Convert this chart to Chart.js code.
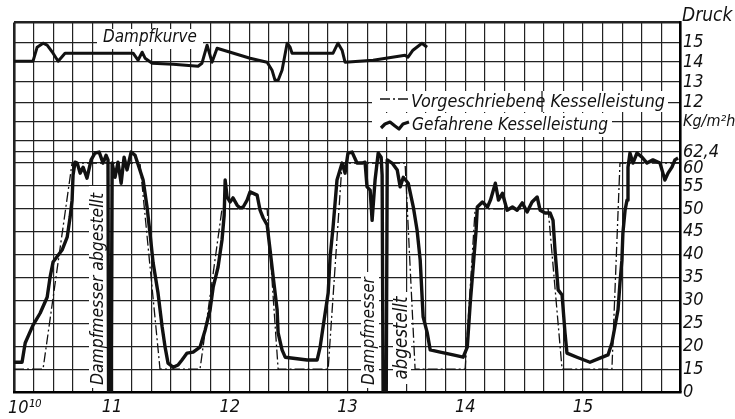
<!DOCTYPE html>
<html>
<head>
<meta charset="utf-8">
<script src="https://cdn.jsdelivr.net/npm/chart.js@4.4.1/dist/chart.umd.min.js"></script>
<style>
  html, body { margin: 0; padding: 0; background: #fff; }
  #wrap { width: 735px; height: 419px; position: relative; }
</style>
</head>
<body>
<div id="wrap"><canvas id="c"></canvas></div>
<script>
// ---- DATA (time = minutes after 10:00, load in Kg/m²h, pressure in atü) ----
const actualTime = [10,14.1,15.7,19.7,23.3,26.9,28.4,29.9,34.5,37.1,38.6,39.6,40.1,41.1,42.2,43.7,45.2,47.2,49.3,51.3,53.4,55.4,56.9,57.9,58.2,59.5,60.0,61.5,63.0,64.6,66.1,67.6,69.7,71.7,73.7,75.8,77.8,79.4,80.9,83.4,85.5,87.0,88.5,91.1,93.6,95.6,98.2,101.3,104.8,107.4,109.9,111.5,114.0,116.0,117.1,117.6,118.6,120.1,121.6,123.7,125.2,126.8,128.8,130.3,133.9,135.4,137.0,139.0,140.5,142.1,144.1,144.6,146.6,148.2,159.4,164.5,166.0,167.5,170.1,171.1,172.6,174.6,177.2,178.7,180.2,182.3,184.8,187.4,188.9,189.9,191.5,192.5,194.0,195.6,197.1,197.6,198.1,199.7,200.2,202.7,205.3,206.8,208.4,210.9,213.5,215.4,217.0,218.5,220.6,222.1,227.2,233.8,238.9,241.0,242.5,244.0,245.5,246.1,248.7,251.3,252.8,255.3,256.9,258.9,261.3,264.0,266.4,269.0,271.5,274.0,276.6,278.1,280.7,283.2,284.7,285.7,287.3,289.3,290.8,291.8,296.9,303.5,308.6,312.7,314.7,316.2,317.8,318.8,319.8,320.3,321.4,322.4,322.9,323.9,325.4,327.5,330.0,332.6,335.6,339.2,340.7,341.7,343.3,345.3,346.8,348.4];
const actualLoad = [16.5,16.5,20.7,24.6,27.2,30.7,35.1,38.4,41.0,43.8,48.2,51.9,57.4,60.2,60.0,57.8,59.1,56.7,60.7,62.2,62.4,60.0,61.7,60.7,0,0,60.0,56.9,60.2,55.6,61.3,58.5,62.4,61.7,59.1,56.3,50.4,44.3,38.2,31.6,24.2,19.8,16.3,15.4,15.9,17.0,18.5,18.7,19.8,23.5,27.9,32.9,37.3,43.2,48.6,56.3,52.6,51.5,52.4,50.8,50.2,50.4,51.9,53.7,53.0,49.7,48.0,46.5,41.0,35.1,27.9,22.9,19.2,17.6,17.0,17.0,19.8,24.2,31.6,39.5,46.0,56.3,60.0,57.8,62.2,62.4,60.0,60.0,60.2,54.8,54.1,47.5,56.3,62.2,61.3,57.4,0,0,60.7,60.0,58.5,54.8,56.9,55.6,50.4,45.4,38.8,26.4,22.9,19.2,18.7,18.1,17.6,19.8,29.4,37.3,45.4,50.4,51.5,50.4,51.9,55.6,51.9,53.4,49.7,50.4,49.7,51.3,49.3,51.5,52.6,49.7,49.1,49.1,47.5,41.0,32.3,31.2,22.9,18.5,17.6,16.5,17.4,18.1,20.7,24.2,27.9,33.8,38.8,44.7,49.7,51.9,59.1,62.2,60.0,62.2,61.3,60.0,60.7,60.0,57.8,56.3,57.8,59.1,60.7,61.1];

const prescribedTime = [10,24.8,39.6,74.2,84.4,104.8,116.0,139.0,144.6,170.1,177.2,209.3,214.4,239.9,245.0,282.2,289.3,314.7,318.8,349.4];
const prescribedLoad = [15,15,60,60,15,15,50,50,15,15,60,60,15,15,50,50,15,15,60,60];

const pressureTime = [10,19.7,21.8,24.8,26.9,29.9,32.5,36.0,70.7,73.2,75.3,76.8,80.4,91.1,103.8,105.8,108.4,110.9,113.5,130.3,139.0,141.5,143.0,144.6,146.6,149.2,150.7,151.7,172.6,175.1,177.2,178.7,193.0,209.3,210.8,213.3,217.9,220.5];
const pressureVal = [14.05,14.05,14.75,14.95,14.85,14.45,14.05,14.45,14.45,14.1,14.5,14.2,13.95,13.9,13.8,13.95,14.85,14.0,14.7,14.2,14.0,13.6,13.1,13.1,13.6,14.95,14.75,14.45,14.45,14.95,14.6,14.0,14.1,14.35,14.25,14.6,14.95,14.75];

const hourTickMinutes = [10, 60, 120, 180, 240, 300];
const hourTickLabels = ['10¹⁰', '11', '12', '13', '14', '15'];

const rightTickValues = [10,15,20,25,30,35,40,45,50,55,60,62.4,64.8,69.0,73.3,77.7,82.06,86.4,90.7];
const rightTickLabels = ['0','15','20','25','30','35','40','45','50','55','60','62,4','','Kg/m²h','12','13','14','15',''];

// ---- helpers ----
// The load axis is broken below 15: "0" is drawn one grid step below 15.
function loadPos(v) { return v >= 15 ? v : 10 + v / 3; }
const FONT = '"Liberation Sans Narrow", "DejaVu Sans Condensed", "Liberation Sans", sans-serif';

const actualData = actualTime.map((t, i) => ({ x: t, y: loadPos(actualLoad[i]) }));
const prescribedData = prescribedTime.map((t, i) => ({ x: t, y: loadPos(prescribedLoad[i]) }));
const pressureData = pressureTime.map((t, i) => ({ x: t, y: pressureVal[i] }));

function fitText(ctx, text, cx, cy, width, rot) {
  ctx.save();
  ctx.font = 'italic 20px ' + FONT;
  const w = ctx.measureText(text).width;
  const size = 20 * width / w;
  ctx.font = 'italic ' + size.toFixed(2) + 'px ' + FONT;
  ctx.translate(cx, cy);
  if (rot) ctx.rotate(rot);
  ctx.textAlign = 'center';
  ctx.textBaseline = 'middle';
  ctx.fillStyle = '#111';
  ctx.fillText(text, 0, 0);
  ctx.restore();
}

const annot = {
  id: 'annot',
  beforeDatasetsDraw(chart) {
    const ctx = chart.ctx;
    ctx.save();
    ctx.fillStyle = '#fff';
    ctx.fillRect(97, 29, 106, 20);     // Dampfkurve
    ctx.fillRect(372, 91, 296, 21);    // legend line 1
    ctx.fillRect(372, 113, 240, 24);   // legend line 2
    ctx.fillRect(89, 186, 18, 202);    // Dampfmesser abgestellt (1)
    ctx.fillRect(361, 272, 18, 116);   // Dampfmesser (2)
    ctx.fillRect(393, 292, 18, 92);    // abgestellt (2)
    ctx.restore();

    fitText(ctx, 'Dampfkurve', 150, 38, 94, 0);
    fitText(ctx, 'Vorgeschriebene Kesselleistung', 538, 102, 254, 0);
    fitText(ctx, 'Gefahrene Kesselleistung', 510, 126, 196, 0);
    fitText(ctx, 'Dampfmesser abgestellt', 98, 289, 192, -Math.PI / 2);
    fitText(ctx, 'Dampfmesser', 370, 331, 108, -Math.PI / 2);
    fitText(ctx, 'abgestellt', 402, 338, 83, -Math.PI / 2);

    ctx.save();
    ctx.strokeStyle = '#111';
    ctx.lineWidth = 1.3;
    ctx.setLineDash([10, 3, 2, 3]);
    ctx.beginPath(); ctx.moveTo(380, 99); ctx.lineTo(410, 99); ctx.stroke();
    ctx.setLineDash([]);
    ctx.lineWidth = 3.2;
    ctx.lineJoin = 'round';
    ctx.beginPath();
    ctx.moveTo(381, 128); ctx.lineTo(385, 124); ctx.lineTo(390, 122); ctx.lineTo(395, 126);
    ctx.lineTo(399, 129); ctx.lineTo(403, 124); ctx.lineTo(409, 122);
    ctx.stroke();
    ctx.lineWidth = 1.2;
    ctx.beginPath(); ctx.moveTo(542, 91); ctx.lineTo(542, 112); ctx.stroke();
    ctx.restore();
  },
  afterDraw(chart) {
    const ctx = chart.ctx;
    ctx.save();
    ctx.fillStyle = '#111';
    ctx.textBaseline = 'middle';
    ctx.font = 'italic 19px ' + FONT;
    ctx.fillText('Druck', 682, 16);
    ctx.font = 'italic 18px ' + FONT;
    // "60" sits a little below its line in the original, clear of "62,4"
    ctx.fillText(rightTickLabels[10], 683, 168);
    // first time label sits right of its tick in the original
    ctx.textAlign = 'left';
    ctx.fillText(hourTickLabels[0], 8, 408);
    ctx.restore();
  }
};

new Chart(document.getElementById('c'), {
  type: 'scatter',
  data: {
    datasets: [
      { label: 'Gefahrene Kesselleistung', data: actualData, yAxisID: 'y', showLine: true,
        borderColor: '#111', borderWidth: 3.4, pointRadius: 0, tension: 0, borderJoinStyle: 'round' },
      { label: 'Vorgeschriebene Kesselleistung', data: prescribedData, yAxisID: 'y', showLine: true,
        borderColor: '#111', borderWidth: 1.3, borderDash: [10, 3, 2, 3], pointRadius: 0, tension: 0 },
      { label: 'Dampfkurve', data: pressureData, yAxisID: 'y2', showLine: true,
        borderColor: '#111', borderWidth: 3, pointRadius: 0, tension: 0, borderJoinStyle: 'round' }
    ]
  },
  options: {
    responsive: true,
    maintainAspectRatio: false,
    animation: false,
    layout: { padding: { left: 14, top: 22.5, right: 0, bottom: 0 } },
    plugins: { legend: { display: false }, tooltip: { enabled: false } },
    scales: {
      x: {
        type: 'linear', min: 10, max: 349.4,
        afterBuildTicks(scale) {
          const t = [];
          for (let v = 10; v <= 340; v += 10) t.push({ value: v });
          t.push({ value: 349.4 });
          scale.ticks = t;
        },
        afterFit(scale) { scale.height = 27; },
        ticks: {
          autoSkip: false, maxRotation: 0, padding: 5, color: '#111',
          font: { family: FONT, size: 18, style: 'italic' },
          callback(v) { const i = hourTickMinutes.indexOf(v); return i > 0 ? hourTickLabels[i] : ''; }
        },
        grid: {
          color: '#222', drawTicks: false,
          lineWidth: (c) => (c.tick && c.tick.value === 10) ? 2.6 : 1.2
        },
        border: { display: true, color: '#000', width: 2.6 }
      },
      y: {
        type: 'linear', position: 'right', min: 10, max: 90.7,
        afterBuildTicks(scale) { scale.ticks = rightTickValues.map(v => ({ value: v })); },
        afterFit(scale) { scale.width = 55; },
        ticks: {
          autoSkip: false, padding: 3, color: '#111',
          font: (c) => ({ family: FONT, size: (c.tick && c.tick.value === 69.0) ? 16 : 18, style: 'italic' }),
          callback(v) { const i = rightTickValues.indexOf(v); return (i >= 0 && v !== 60) ? rightTickLabels[i] : ''; }
        },
        grid: {
          color: '#222', drawTicks: false,
          lineWidth: (c) => (c.tick && c.tick.value >= 90.7) ? 2.6 : 1.2
        },
        border: { display: true, color: '#000', width: 2.6 }
      },
      y2: { type: 'linear', display: false, min: -2.49, max: 15.985 }
    }
  },
  plugins: [annot]
});
</script>
</body>
</html>
